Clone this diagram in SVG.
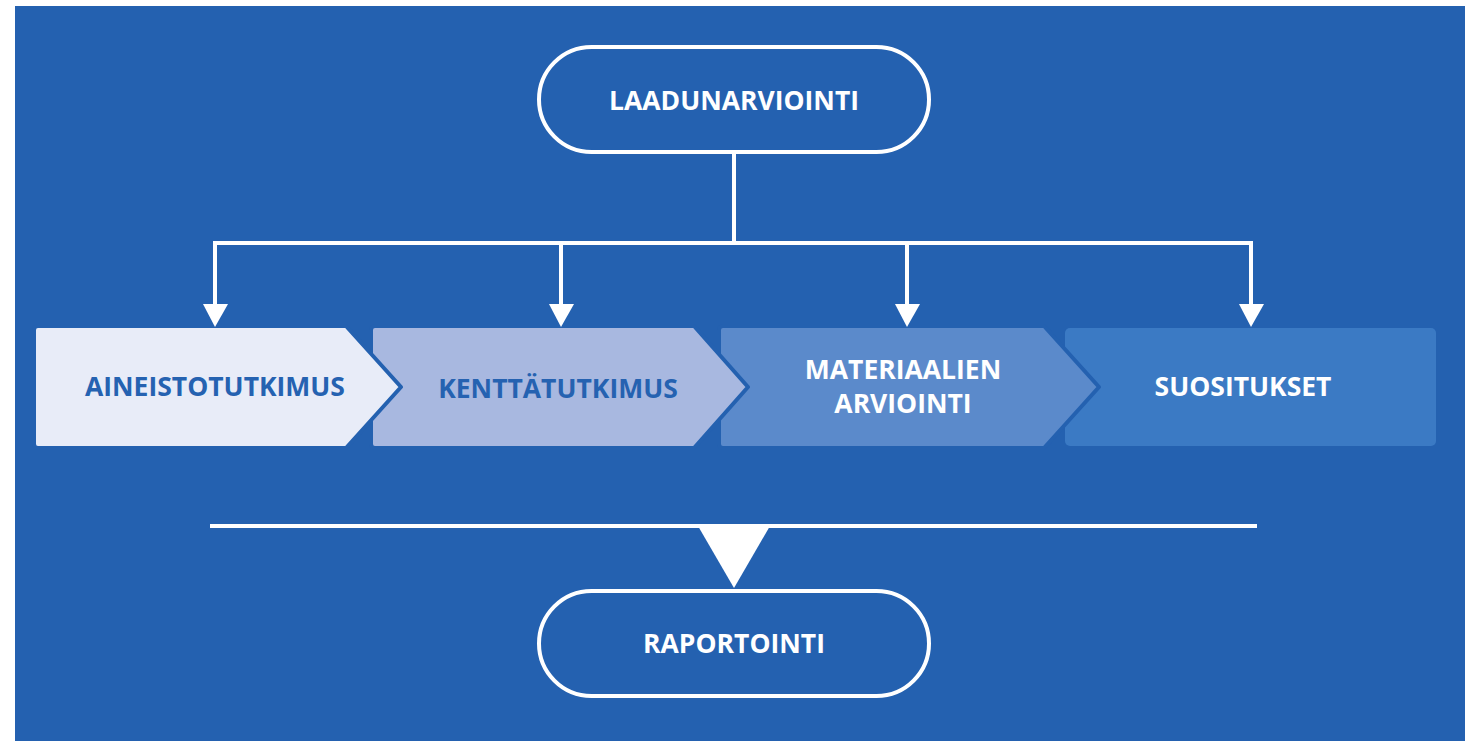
<svg xmlns="http://www.w3.org/2000/svg" width="1476" height="741" viewBox="0 0 1476 741">
<defs>
<style>
.lbl{font-family:"Open Sans","Liberation Sans",sans-serif;font-weight:700;font-size:26.5px;text-anchor:middle;dominant-baseline:central}
.w{fill:#ffffff}
.d{fill:#2562b1}
.pill{fill:none;stroke:#ffffff;stroke-width:4}
.step{stroke:#2461b0;stroke-width:4;stroke-linejoin:round}
.conn{fill:none;stroke:#ffffff;stroke-width:4}
.head{fill:#ffffff}
</style>
</defs>
<rect x="0" y="0" width="1476" height="741" fill="#ffffff"/>
<rect x="15" y="6" width="1450" height="735" fill="#2461b0"/>

<g id="node-suositukset">
<rect x="1065" y="328" width="371" height="118" rx="5" fill="#3b7ac4"/>
<text class="lbl w" x="1243" y="386">SUOSITUKSET</text>
</g>

<g id="node-materiaalien">
<path class="step" fill="#5b8acb" d="M723,326 H1044 L1099,387 L1044,448 H723 Q719,448 719,444 V330 Q719,326 723,326 Z"/>
<text class="lbl w" x="903" y="369">MATERIAALIEN</text>
<text class="lbl w" x="903" y="403">ARVIOINTI</text>
</g>

<g id="node-kenttatutkimus">
<path class="step" fill="#a8b8e0" d="M375,326 H694 L748,387 L694,448 H375 Q371,448 371,444 V330 Q371,326 375,326 Z"/>
<text class="lbl d" x="558" y="388">KENTTÄTUTKIMUS</text>
</g>

<g id="node-aineistotutkimus">
<path class="step" fill="#e8ecf8" d="M38,326 H346 L401,387 L346,448 H38 Q34,448 34,444 V330 Q34,326 38,326 Z"/>
<text class="lbl d" x="215" y="386">AINEISTOTUTKIMUS</text>
</g>

<g id="connectors">
<path class="conn" d="M734,152 V243 M213,243 H1253 M215,241 V306 M561,241 V306 M907,241 V306 M1251,241 V306"/>
<polygon class="head" points="203,304 228,304 215,327"/>
<polygon class="head" points="549,304 574,304 561,327"/>
<polygon class="head" points="895,304 920,304 907,327"/>
<polygon class="head" points="1239,304 1264,304 1251,327"/>
<line class="conn" x1="210" y1="526" x2="1257" y2="526"/>
<polygon class="head" points="698,526 770,526 734,588"/>
</g>

<g id="node-laadunarviointi">
<rect class="pill" x="539" y="47" width="390" height="105" rx="52.5"/>
<text class="lbl w" x="734" y="100">LAADUNARVIOINTI</text>
</g>

<g id="node-raportointi">
<rect class="pill" x="539" y="591" width="390" height="105" rx="52.5"/>
<text class="lbl w" x="734" y="643">RAPORTOINTI</text>
</g>
</svg>
